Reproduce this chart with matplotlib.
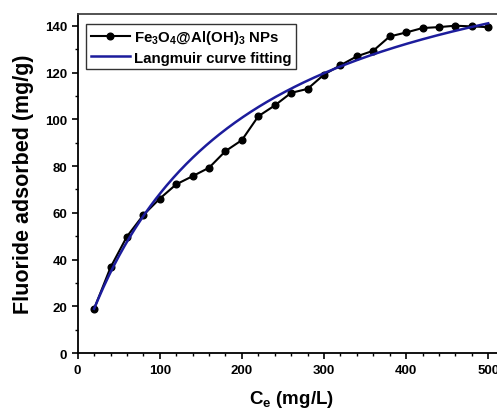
import numpy as np
import matplotlib
matplotlib.use("Agg")
import matplotlib.pyplot as plt
from matplotlib.ticker import MultipleLocator

plt.rcParams['font.family'] = ['Liberation Sans', 'DejaVu Sans']
plt.rcParams['font.weight'] = 'bold'
plt.rcParams['mathtext.fontset'] = 'custom'
plt.rcParams['mathtext.rm'] = 'Liberation Sans:bold'
plt.rcParams['mathtext.it'] = 'Liberation Sans:bold'
plt.rcParams['mathtext.bf'] = 'Liberation Sans:bold'

# Experimental data
ce = [20, 40, 60, 80, 100, 120, 140, 160, 180, 200, 220, 240, 260, 280, 300,
      320, 340, 360, 380, 400, 420, 440, 460, 480, 500]
qe = [19.0, 36.7, 49.9, 59.1, 66.1, 72.2, 75.7, 79.3, 86.4, 91.1, 101.3, 105.9,
      111.3, 113.0, 119.1, 123.1, 126.9, 129.3, 135.4, 137.1, 139.0, 139.4,
      140.0, 139.7, 139.4]

# Langmuir fit parameters
qm = 192.5
KL = 0.00548

c_fit = np.linspace(ce[0], ce[-1], 300)
q_fit = qm * KL * c_fit / (1 + KL * c_fit)

fig = plt.figure(figsize=(4.97, 4.10), dpi=100)
ax = fig.add_axes([0.1563, 0.1359, 0.859, 0.8275])

ax.plot(ce, qe, color='black', lw=1.5, marker='o', ms=4.8,
        label=r'Fe$_3$O$_4$@Al(OH)$_3$ NPs', zorder=3)
ax.plot(c_fit, q_fit, color='#1c1c9c', lw=1.8, label='Langmuir curve fitting', zorder=4)

ax.set_xlim(0, 520)
ax.set_ylim(0, 145)
ax.xaxis.set_major_locator(MultipleLocator(100))
ax.xaxis.set_minor_locator(MultipleLocator(20))
ax.yaxis.set_major_locator(MultipleLocator(20))
ax.yaxis.set_minor_locator(MultipleLocator(10))
ax.tick_params(which='major', direction='out', length=4, width=1.2, labelsize=9.5, pad=3.5)
ax.tick_params(which='minor', direction='out', length=2.5, width=1.0)
for lab in ax.get_xticklabels() + ax.get_yticklabels():
    lab.set_fontweight('bold')

for s in ['left', 'bottom']:
    ax.spines[s].set_linewidth(1.3)
ax.spines['top'].set_linewidth(1.3)
ax.spines['top'].set_color('#444444')
ax.spines['right'].set_visible(False)

ax.set_xlabel(r'C$_{e}$ (mg/L)', fontsize=13.5, fontweight='bold', labelpad=9)
ax.set_ylabel('Fluoride adsorbed (mg/g)', fontsize=15.5, fontweight='bold', labelpad=8)

leg = ax.legend(loc='upper left', bbox_to_anchor=(0.02, 0.972), fontsize=10.8,
                frameon=True, fancybox=False, handlelength=2.6, handletextpad=0.3,
                borderpad=0.3, labelspacing=0.3, borderaxespad=0)
leg.get_frame().set_edgecolor('black')
leg.get_frame().set_linewidth(1.0)
for t in leg.get_texts():
    t.set_fontweight('bold')

fig.savefig('out.png', dpi=100)
